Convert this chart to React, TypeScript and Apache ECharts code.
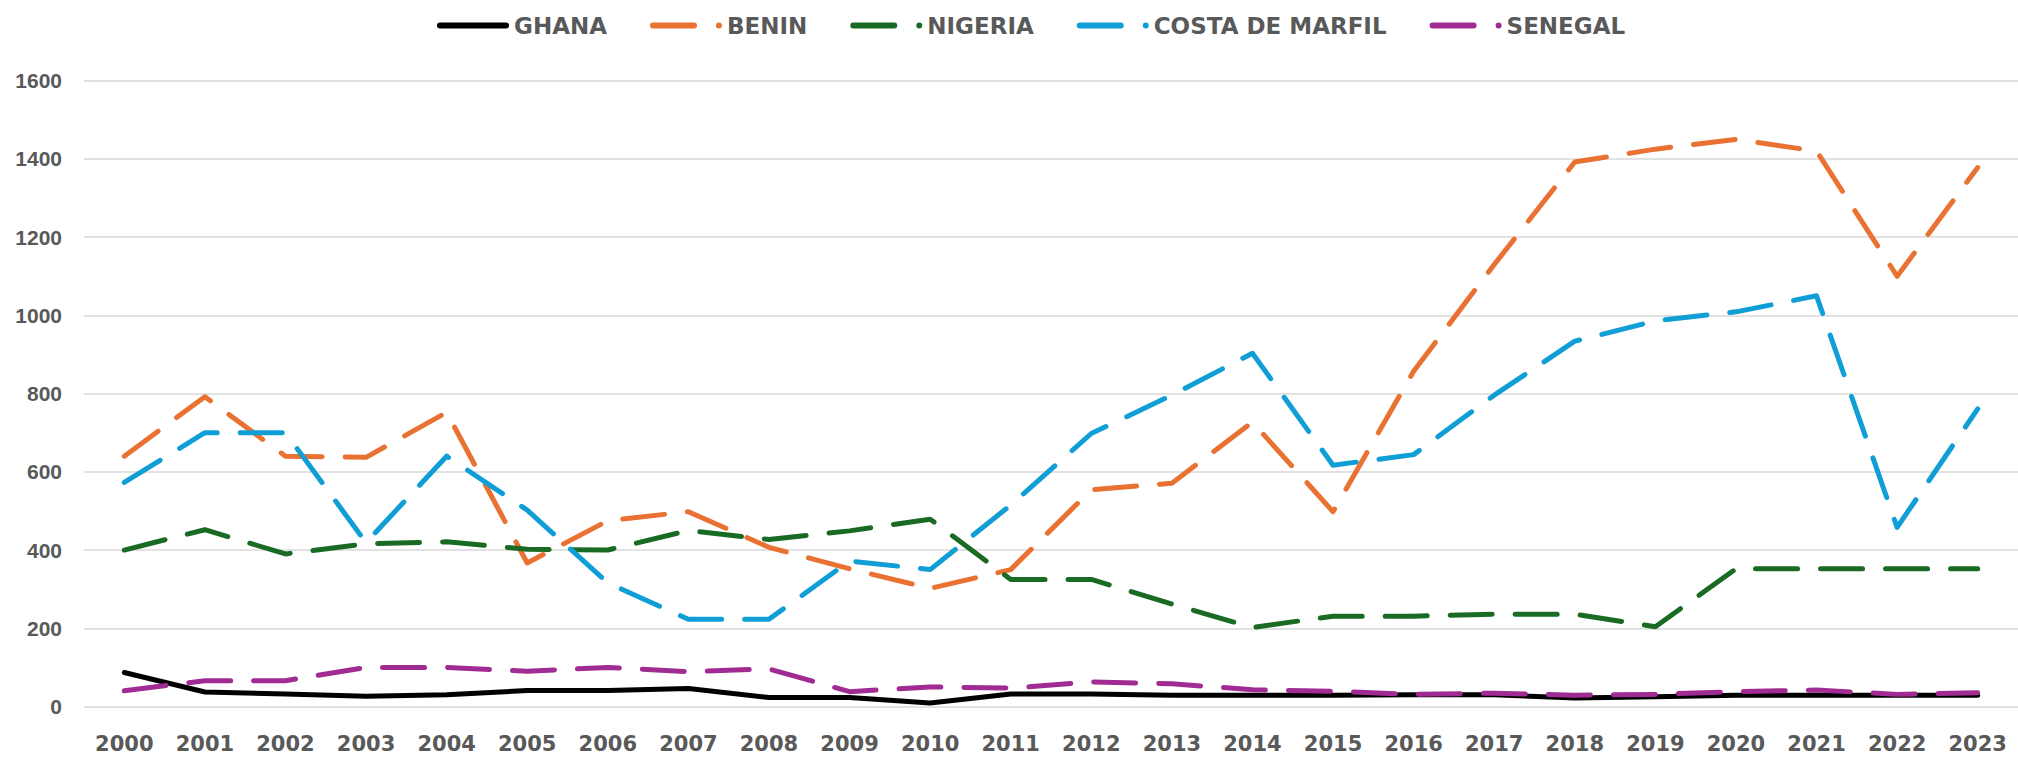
import React, { useEffect, useRef } from "react";
import * as echarts from "echarts";

const years = ["2000","2001","2002","2003","2004","2005","2006","2007","2008","2009","2010","2011","2012","2013","2014","2015","2016","2017","2018","2019","2020","2021","2022","2023"];
const ghana = [87, 37, 32, 26, 30, 41, 41, 46, 23, 23, 9, 32, 32, 29, 29, 29, 30, 30, 22, 25, 29, 29, 29, 29];
const benin = [640, 792, 640, 637, 752, 367, 475, 498, 407, 352, 302, 350, 554, 571, 727, 498, 857, 1130, 1392, 1425, 1450, 1420, 1100, 1378];
const nigeria = [400, 452, 390, 416, 421, 402, 400, 450, 427, 449, 479, 325, 325, 262, 202, 231, 231, 236, 236, 204, 352, 352, 352, 352];
const costa = [573, 700, 700, 419, 640, 502, 316, 223, 223, 372, 350, 515, 698, 796, 903, 617, 644, 796, 934, 986, 1009, 1050, 458, 761];
const senegal = [40, 66, 66, 100, 100, 90, 100, 89, 96, 38, 50, 47, 63, 58, 43, 39, 31, 34, 29, 31, 38, 42, 31, 35];

const seriesNames = ["GHANA", "BENIN", "NIGERIA", "COSTA DE MARFIL", "SENEGAL"];
const seriesColors = ["#000000", "#E97132", "#196B24", "#0F9ED5", "#A02B93"];

const solidIcon = "path://M3,0 L69,0 A3,3 0 0 1 69,6 L3,6 A3,3 0 0 1 3,0 Z";
const dashIcon = "path://M3,0 L44,0 A3,3 0 0 1 44,6 L3,6 A3,3 0 0 1 3,0 Z M66,3 A3,3 0 1 0 72,3 A3,3 0 1 0 66,3 Z";

export default function App() {
  const ref = useRef<HTMLDivElement>(null);
  useEffect(() => {
    document.body.style.margin = "0";
    const chart = echarts.init(ref.current!, null, { renderer: "svg" });
    const dataSets = [ghana, benin, nigeria, costa, senegal];
    chart.setOption({
      animation: false,
      backgroundColor: "#ffffff",
      legend: {
        left: 432,
        top: 9,
        itemWidth: 72,
        itemHeight: 6,
        itemGap: 43,
        itemStyle: { borderWidth: 0 },
        textStyle: { fontFamily: "DejaVu Sans", fontWeight: "bold", fontSize: 23, color: "#595959" },
        data: seriesNames.map((n, i) => ({ name: n, icon: i === 0 ? solidIcon : dashIcon })),
      },
      grid: { left: 84, top: 80.7, width: 1938, height: 625.8, containLabel: false },
      xAxis: {
        type: "category",
        data: years,
        boundaryGap: true,
        axisLine: { show: false },
        axisTick: { show: false },
        axisLabel: { margin: 27, fontFamily: "DejaVu Sans", fontWeight: "bold", fontSize: 21, color: "#595959" },
      },
      yAxis: {
        type: "value",
        min: 0,
        max: 1600,
        interval: 200,
        axisLine: { show: false },
        axisTick: { show: false },
        axisLabel: {
          margin: 22,
          fontFamily: "Liberation Sans",
          fontWeight: "bold",
          fontSize: 21,
          color: "#595959",
          formatter: (v: number) => String(v),
        },
        splitLine: { lineStyle: { color: "#d9d9d9", width: 1.5 } },
      },
      series: seriesNames.map((n, i) => ({
        name: n,
        type: "line",
        data: dataSets[i],
        symbol: "none",
        showSymbol: false,
        color: seriesColors[i],
        itemStyle: { color: seriesColors[i] },
        lineStyle: {
          color: seriesColors[i],
          width: 5,
          type: i === 0 ? "solid" : [42, 23],
          cap: "round",
          join: "round",
        },
      })),
    });
    return () => chart.dispose();
  }, []);
  return <div ref={ref} style={{ width: 2018, height: 758 }} />;
}
